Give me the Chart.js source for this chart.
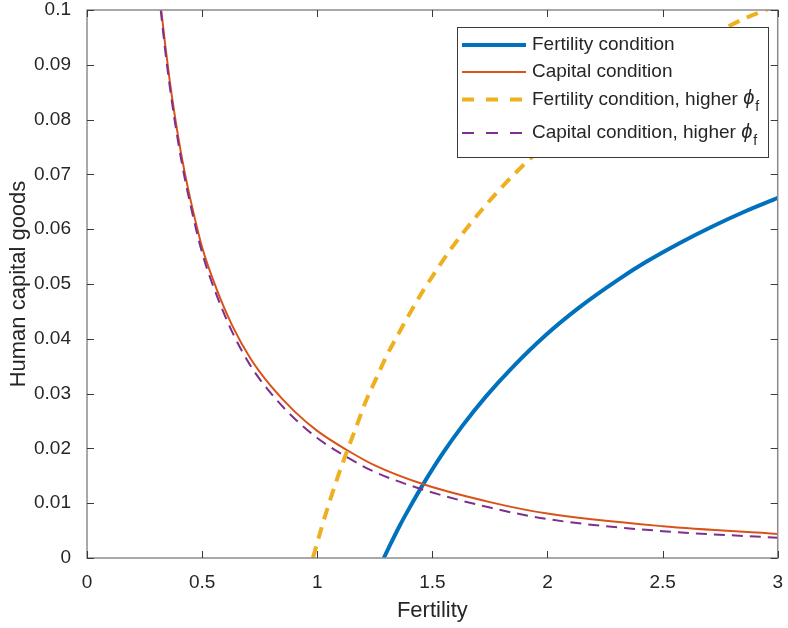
<!DOCTYPE html>
<html>
<head>
<meta charset="utf-8">
<script src="https://cdn.jsdelivr.net/npm/chart.js@4/dist/chart.umd.min.js"></script>
<style>
  html, body { margin: 0; padding: 0; background: #fff; }
  #wrap { width: 788px; height: 628px; }
</style>
</head>
<body>
<div id="wrap"><canvas id="myChart"></canvas></div>
<script>
// fertility on x, human capital goods on y
const fertX = [1.289, 1.32, 1.357, 1.40, 1.465, 1.55, 1.632, 1.733, 1.848, 1.993, 2.137, 2.311, 2.427, 2.571, 2.716, 2.85, 3.0];
const fertY = [0, 0.0027, 0.0058, 0.0091, 0.0138, 0.0194, 0.0242, 0.0295, 0.0348, 0.0407, 0.0457, 0.0509, 0.0540, 0.0574, 0.0605, 0.0631, 0.0657];

const capX = [0.3226, 0.34, 0.36, 0.38, 0.40, 0.425, 0.45, 0.50, 0.56, 0.63, 0.71, 0.80, 0.90, 1.00, 1.125, 1.25, 1.465, 1.75, 2.0, 2.5, 3.0];
const capY = [0.1, 0.0935, 0.0869, 0.0811, 0.0759, 0.0702, 0.0653, 0.0567, 0.0494, 0.0425, 0.0364, 0.0313, 0.0268, 0.0232, 0.0198, 0.0169, 0.0134, 0.0102, 0.0081, 0.0058, 0.0044];

const fertHiX = [0.981, 1.02, 1.05, 1.09, 1.125, 1.17, 1.212, 1.26, 1.299, 1.35, 1.40, 1.46, 1.516, 1.574, 1.631, 1.718, 1.783, 1.85, 1.928, 2.0, 2.2, 2.4, 2.6, 2.785, 2.875, 2.948, 3.0];
const fertHiY = [0, 0.0057, 0.0098, 0.0149, 0.0190, 0.0240, 0.0287, 0.0331, 0.0367, 0.0407, 0.0445, 0.0488, 0.0524, 0.0560, 0.0592, 0.0637, 0.0668, 0.0698, 0.0730, 0.0757, 0.0823, 0.0879, 0.0927, 0.0970, 0.0988, 0.1000, 0.1010];

const capHiX = [0.3201, 0.34, 0.36, 0.38, 0.40, 0.425, 0.45, 0.50, 0.56, 0.63, 0.71, 0.80, 0.90, 1.00, 1.125, 1.25, 1.465, 1.75, 2.0, 2.5, 3.0];
const capHiY = [0.1, 0.0925, 0.0859, 0.0801, 0.0749, 0.0692, 0.0643, 0.0557, 0.0483, 0.0413, 0.0351, 0.0300, 0.0255, 0.0219, 0.0185, 0.0157, 0.0124, 0.0092, 0.0071, 0.0049, 0.0037];

const seriesNames = ['Fertility condition', 'Capital condition', 'Fertility condition, higher ', 'Capital condition, higher '];

const xTicks = [0, 0.5, 1, 1.5, 2, 2.5, 3];
const yTicks = [0, 0.01, 0.02, 0.03, 0.04, 0.05, 0.06, 0.07, 0.08, 0.09, 0.1];

function pts(xs, ys) {
  return xs.map((x, i) => ({ x: x, y: ys[i] }));
}

const textCol = '#262626';
const FONT = "'Liberation Sans', Arial, sans-serif";

// box round the axes with inward ticks on all four sides
const boxPlugin = {
  id: 'box',
  afterDatasetsDraw(chart) {
    const c = chart.ctx, a = chart.chartArea;
    const xs = chart.scales.x, ys = chart.scales.y;
    c.save();
    c.strokeStyle = '#8c8c8c';
    c.lineWidth = 1.5;
    c.strokeRect(a.left, a.top, a.right - a.left, a.bottom - a.top);
    c.strokeStyle = '#3a3a3a';
    c.lineWidth = 1;
    const tl = 7;
    c.beginPath();
    xTicks.forEach(v => {
      const px = Math.round(xs.getPixelForValue(v)) + 0.5;
      c.moveTo(px, a.bottom); c.lineTo(px, a.bottom - tl);
      c.moveTo(px, a.top); c.lineTo(px, a.top + tl);
    });
    yTicks.forEach(v => {
      const py = Math.round(ys.getPixelForValue(v)) + 0.5;
      c.moveTo(a.left, py); c.lineTo(a.left + tl, py);
      c.moveTo(a.right, py); c.lineTo(a.right - tl, py);
    });
    c.stroke();
    c.restore();
  }
};

// legend box in the upper right corner of the axes
const legendPlugin = {
  id: 'innerLegend',
  afterDatasetsDraw(chart) {
    const c = chart.ctx;
    const x0 = 457, y0 = 27, w = 311, h = 130;
    const rows = [45, 72, 99.5, 133];
    c.save();
    c.fillStyle = '#fff';
    c.fillRect(x0, y0, w, h);
    c.strokeStyle = '#3a3a3a';
    c.lineWidth = 1;
    c.strokeRect(x0 + 0.5, y0 + 0.5, w, h);
    chart.data.datasets.forEach((ds, i) => {
      const y = rows[i];
      c.beginPath();
      c.strokeStyle = ds.borderColor;
      c.lineWidth = ds.borderWidth;
      c.setLineDash(i >= 2 ? [12, 12] : []);
      c.moveTo(462, y); c.lineTo(526, y);
      c.stroke();
      c.setLineDash([]);
      c.fillStyle = textCol;
      c.textBaseline = 'middle';
      c.font = '19px ' + FONT;
      c.fillText(seriesNames[i], 532, y);
      if (i >= 2) {
        const tw = c.measureText(seriesNames[i]).width;
        c.font = 'italic 20px ' + FONT;
        c.fillText('\u03d5', 532 + tw, y - 1);
        const pw = c.measureText('\u03d5').width;
        c.font = '14px ' + FONT;
        c.fillText('f', 532 + tw + pw + 1, y + 8);
      }
    });
    c.restore();
  }
};

const ctx = document.getElementById('myChart');

const data = {
  datasets: [
    { label: seriesNames[0], data: pts(fertX, fertY), borderColor: '#0072BD', borderWidth: 4, order: 4 },
    { label: seriesNames[1], data: pts(capX, capY), borderColor: '#D95319', borderWidth: 2, order: 3 },
    { label: seriesNames[2], data: pts(fertHiX, fertHiY), borderColor: '#EDB120', borderWidth: 4, borderDash: [12, 8], order: 2 },
    { label: seriesNames[3], data: pts(capHiX, capHiY), borderColor: '#7E2F8E', borderWidth: 2, borderDash: [11, 7], order: 1 }
  ]
};

const config = {
  type: 'scatter',
  data: data,
  options: {
    responsive: true,
    maintainAspectRatio: false,
    animation: false,
    layout: { padding: { left: 0, right: 2, top: 0, bottom: 0 } },
    elements: {
      point: { radius: 0, hoverRadius: 0 },
      line: { cubicInterpolationMode: 'monotone', fill: false }
    },
    datasets: { scatter: { showLine: true, clip: 0 } },
    plugins: { legend: { display: false }, tooltip: { enabled: false } },
    scales: {
      x: {
        type: 'linear', min: 0, max: 3,
        afterFit: s => { s.height = 70; },
        afterBuildTicks: s => { s.ticks = xTicks.map(v => ({ value: v })); },
        grid: { display: false },
        border: { display: false },
        ticks: { color: textCol, padding: 5, maxRotation: 0, font: { family: FONT, size: 19 },
                 callback: v => String(+v.toFixed(2)) },
        title: { display: true, text: 'Fertility', color: textCol, font: { family: FONT, size: 22 }, padding: { top: 2, bottom: 4 } }
      },
      y: {
        type: 'linear', min: 0, max: 0.1,
        // fixed width, and only enough room above for the top label
        afterFit: s => { s.width = 87; s.paddingTop = 10; s.paddingBottom = 0; },
        afterBuildTicks: s => { s.ticks = yTicks.map(v => ({ value: v })); },
        grid: { display: false },
        border: { display: false },
        ticks: { color: textCol, padding: 8, font: { family: FONT, size: 19 },
                 callback: v => String(+v.toFixed(2)) },
        title: { display: true, text: 'Human capital goods', color: textCol, font: { family: FONT, size: 22 }, padding: { top: 6, bottom: 4 } }
      }
    }
  },
  plugins: [boxPlugin, legendPlugin]
};

const myChart = new Chart(ctx, config);
</script>
</body>
</html>
